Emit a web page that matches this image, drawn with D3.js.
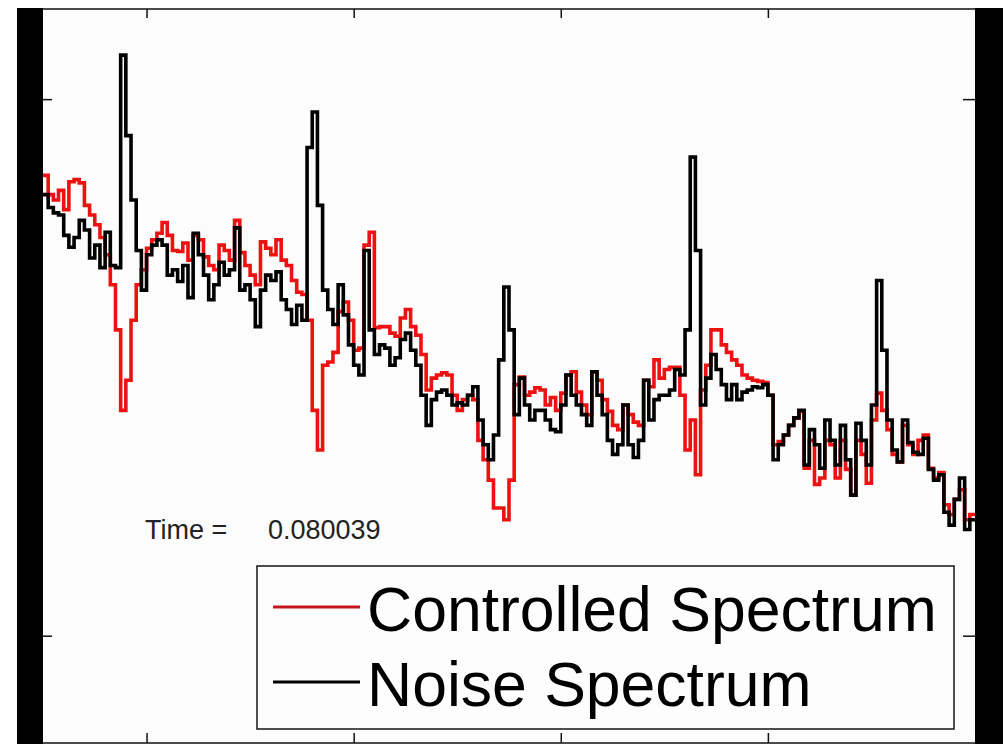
<!DOCTYPE html>
<html>
<head>
<meta charset="utf-8">
<script src="https://cdn.jsdelivr.net/npm/d3@7"></script>
<style>
html,body{margin:0;padding:0;background:#ffffff;}
svg{display:block;}
</style>
</head>
<body>
<svg id="chart" width="1003" height="744"></svg>
<script>
// ---- data (frequency grid in kHz, levels in dB) ----
const freqStep = 0.025;
const noiseSpectrum = [
-8.9,-10.1,-10.6,-10.8,-12.7,-13.8,-12.9,-11.3,-12.2,-14.8,
-13.6,-15.7,-12.4,-15.5,-15.7,4.1,-3.4,-9.4,-14.1,-17.8,
-14.5,-13.6,-13.1,-13.6,-16.4,-15.9,-17.0,-15.5,-18.5,-12.5,
-14.5,-16.4,-18.7,-17.3,-15.2,-16.4,-15.9,-12.0,-17.8,-17.3,
-18.7,-21.2,-17.8,-16.4,-16.9,-16.1,-18.7,-19.6,-21.0,-19.2,
-20.6,-4.5,-1.2,-9.9,-17.8,-19.6,-21.0,-17.3,-20.1,-22.9,
-24.8,-25.7,-14.1,-21.5,-23.8,-22.9,-23.2,-24.8,-24.1,-22.4,
-21.8,-23.4,-24.8,-27.6,-30.4,-28.0,-27.3,-27.1,-27.6,-28.5,
-28.3,-28.5,-27.6,-26.8,-29.9,-32.2,-33.6,-31.3,-24.3,-17.5,
-21.5,-29.4,-26.0,-28.5,-29.9,-29.0,-29.0,-29.9,-30.8,-31.0,
-28.5,-25.7,-27.6,-28.5,-29.4,-30.4,-25.4,-27.6,-29.4,-31.8,
-33.1,-32.2,-28.5,-32.2,-33.4,-31.8,-26.2,-29.9,-28.0,-27.6,
-27.6,-27.1,-25.2,-25.7,-21.5,-5.4,-14.1,-28.5,-26.0,-23.8,
-25.2,-26.6,-28.0,-26.6,-28.0,-27.3,-27.1,-26.8,-26.9,-26.6,
-27.6,-33.6,-32.2,-31.3,-30.4,-29.7,-29.0,-34.1,-30.8,-32.2,
-34.4,-29.9,-31.8,-34.1,-30.4,-33.6,-36.9,-30.2,-31.8,-34.1,
-28.5,-16.9,-23.4,-29.9,-32.7,-33.8,-29.9,-32.0,-32.9,-33.1,
-31.6,-34.5,-35.5,-35.0,-38.5,-39.7,-37.3,-35.3,-40.1,-39.2,
-39.2
];
const controlledSpectrum = [
-7.1,-8.9,-9.4,-8.5,-10.3,-7.7,-7.5,-7.8,-9.9,-10.8,
-11.7,-12.9,-14.5,-17.3,-21.5,-29.0,-26.2,-20.6,-17.3,-15.9,
-13.9,-13.1,-12.5,-11.5,-12.7,-14.1,-14.2,-13.4,-15.0,-12.7,
-13.1,-14.7,-15.5,-15.9,-13.6,-14.1,-15.0,-11.3,-14.3,-15.5,
-16.4,-17.3,-13.3,-13.9,-14.5,-13.1,-15.0,-15.5,-16.9,-18.0,
-18.2,-20.6,-29.0,-32.7,-24.8,-24.5,-23.6,-19.8,-18.9,-20.6,
-23.4,-23.2,-13.6,-12.4,-21.3,-21.2,-21.2,-21.8,-22.1,-20.4,
-19.6,-21.2,-22.0,-23.8,-27.1,-26.0,-25.7,-25.5,-25.7,-27.6,
-29.0,-28.0,-27.6,-28.0,-31.8,-33.6,-35.5,-38.1,-38.1,-39.2,
-35.5,-26.6,-25.9,-27.6,-27.3,-26.9,-27.1,-28.5,-27.8,-29.0,
-27.4,-25.7,-25.4,-27.3,-28.5,-29.4,-25.4,-26.2,-28.0,-29.1,
-30.4,-30.8,-28.5,-29.4,-30.1,-30.4,-26.2,-26.8,-24.3,-26.0,
-25.2,-25.0,-25.0,-27.6,-32.7,-29.9,-35.0,-27.1,-24.8,-21.5,
-21.5,-22.9,-23.6,-24.3,-24.8,-25.7,-26.0,-26.2,-26.3,-26.4,
-27.6,-32.2,-31.9,-31.3,-30.4,-29.7,-29.1,-34.4,-31.8,-35.9,
-35.3,-31.8,-32.2,-35.3,-31.8,-34.5,-36.9,-31.8,-33.1,-35.8,
-29.9,-27.4,-29.0,-30.8,-33.1,-33.8,-30.4,-32.2,-33.1,-31.8,
-31.3,-34.4,-35.3,-34.8,-37.8,-38.7,-37.3,-36.4,-39.2,-38.7,
-38.7
];
const xTicks = [0.5, 1.5, 2.5, 3.5];
const yTicks = [0, -50];
const timeLabel = "Time =";
const timeValue = "0.080039";
const legendLabels = ["Controlled Spectrum", "Noise Spectrum"];

// ---- layout ----
const svg = d3.select("#chart");
const L = 43, R = 975, T = 9, B = 743;

const x = d3.scaleLinear().domain([0, 4.5]).range([L, R]);
const y = d3.scaleLinear().domain([-60, 8.4]).range([B, T]);

const freq = d3.range(noiseSpectrum.length).map(i => i * freqStep);

// video letterbox bars
svg.append("rect").attr("x", 17).attr("y", 8).attr("width", L - 17).attr("height", 744 - 8).attr("fill", "#000");
svg.append("rect").attr("x", R).attr("y", 8).attr("width", 1003 - R).attr("height", 744 - 8).attr("fill", "#000");

// plot background
svg.append("rect").attr("x", L).attr("y", T).attr("width", R - L).attr("height", B - T).attr("fill", "#fcfcfc");

svg.append("defs").append("clipPath").attr("id", "clip")
  .append("rect").attr("x", L).attr("y", T).attr("width", R - L).attr("height", B - T);

const line = d3.line()
  .x((d, i) => x(freq[i]))
  .y(d => y(d))
  .curve(d3.curveStepAfter);

const g = svg.append("g").attr("clip-path", "url(#clip)");
g.append("path").datum(controlledSpectrum)
  .attr("d", line).attr("fill", "none").attr("stroke", "#ee1111")
  .attr("stroke-width", 3.6).attr("stroke-linejoin", "miter");
g.append("path").datum(noiseSpectrum)
  .attr("d", line).attr("fill", "none").attr("stroke", "#000")
  .attr("stroke-width", 3.6).attr("stroke-linejoin", "miter");

// axes (ticks inward, no labels)
const axStyle = sel => { sel.select(".domain").remove(); sel.selectAll("line").attr("stroke", "#111").attr("stroke-width", 1.5); sel.selectAll("text").remove(); };
svg.append("g").attr("transform", `translate(0,${T})`)
  .call(d3.axisBottom(x).tickValues(xTicks).tickSize(9).tickFormat("")).call(axStyle);
svg.append("g").attr("transform", `translate(0,${B})`)
  .call(d3.axisTop(x).tickValues(xTicks).tickSize(10).tickFormat("")).call(axStyle);
svg.append("g").attr("transform", `translate(${L},0)`)
  .call(d3.axisRight(y).tickValues(yTicks).tickSize(9).tickFormat("")).call(axStyle);
svg.append("g").attr("transform", `translate(${R},0)`)
  .call(d3.axisLeft(y).tickValues(yTicks).tickSize(12).tickFormat("")).call(axStyle);

// frame
svg.append("line").attr("x1", L).attr("x2", R).attr("y1", T).attr("y2", T).attr("stroke", "#111").attr("stroke-width", 1.6);
svg.append("line").attr("x1", L).attr("x2", R).attr("y1", B).attr("y2", B).attr("stroke", "#111").attr("stroke-width", 1.6);

// time annotation
svg.append("text").attr("x", 145).attr("y", 539).text(timeLabel)
  .attr("font-family", "Liberation Sans, Arial, sans-serif").attr("font-size", 27).attr("fill", "#222");
svg.append("text").attr("x", 268).attr("y", 539).text(timeValue)
  .attr("font-family", "Liberation Sans, Arial, sans-serif").attr("font-size", 27).attr("fill", "#222");

// legend
const lg = svg.append("g");
lg.append("rect").attr("x", 257).attr("y", 566).attr("width", 954 - 257).attr("height", 729 - 566)
  .attr("fill", "#fdfdfd").attr("stroke", "#222").attr("stroke-width", 1.6);
const legendColors = ["#c4141c", "#000"];
legendLabels.forEach((lab, k) => {
  const yy = 607 + k * 75;
  lg.append("line").attr("x1", 273).attr("x2", 360).attr("y1", yy).attr("y2", yy)
    .attr("stroke", legendColors[k]).attr("stroke-width", 3);
  lg.append("text").attr("x", 367).attr("y", yy + 24).text(lab)
    .attr("font-family", "Liberation Sans, Arial, sans-serif").attr("font-size", 62.5).attr("fill", "#000");
});
</script>
</body>
</html>
